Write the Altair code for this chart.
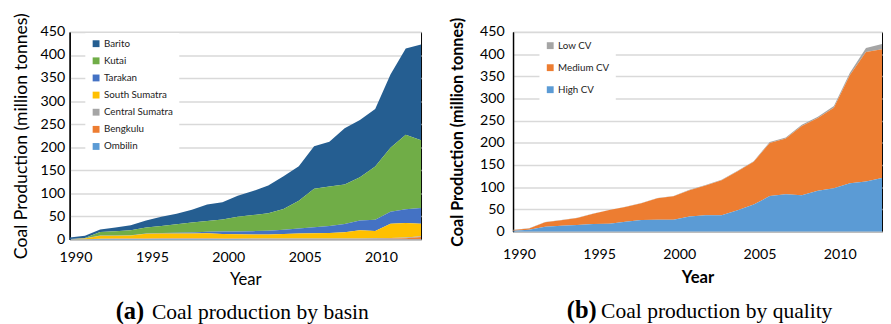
import altair as alt
import pandas as pd

# ---------------- data ----------------
years = list(range(1990, 2014))

# (a) production by basin, million tonnes
barito = [3.2, 5, 5.5, 8, 11, 15, 20, 23, 27.5, 36, 37.5, 45.5, 52, 60, 71, 74.5, 92, 97, 122, 124, 125, 159, 187, 208]
kutai = [0.2, 0.5, 7.5, 9.5, 11, 13, 15, 18.5, 22, 23.5, 26, 31.5, 35, 38, 45, 60, 83.5, 86, 85.5, 94, 115.5, 139, 161.5, 147]
tarakan = [0.3, 0.5, 0.5, 0.5, 0.5, 0.5, 1, 1.5, 2, 3, 5, 6, 7, 8, 9, 11, 13, 15, 18, 21, 24, 26, 30, 34]
south_sumatra = [0.3, 1.5, 6.5, 6.2, 6.7, 10.3, 10.6, 10.5, 10.5, 11, 9.7, 9.2, 8.8, 8.9, 10, 11, 11.5, 12, 13.3, 17.7, 16.1, 31, 31.5, 27]
central_sumatra = [0, 0, 0.3, 0.5, 0.5, 0.8, 1, 1, 1, 1, 1, 1, 1, 1, 1, 1, 1, 1, 1.2, 1.3, 1.4, 1.5, 1.5, 1.5]
bengkulu = [0, 0, 0.2, 0.3, 0.3, 0.4, 0.4, 0.5, 0.5, 0.5, 0.5, 0.5, 0.5, 0.5, 0.5, 0.5, 0.5, 0.5, 0.5, 0.5, 0.5, 1, 2, 5]
ombilin = [0.2, 0.5, 1, 1, 1, 1, 1, 1, 1, 1, 0.8, 0.8, 0.7, 0.6, 0.5, 0.5, 0.5, 0.5, 0.5, 0.5, 0.5, 0.5, 0.5, 0.5]

basin_names = ["Barito", "Kutai", "Tarakan", "South Sumatra", "Central Sumatra", "Bengkulu", "Ombilin"]
basin_colors = ["#255E91", "#70AD47", "#4472C4", "#FFC000", "#A5A5A5", "#ED7D31", "#5B9BD5"]
basin_series = [barito, kutai, tarakan, south_sumatra, central_sumatra, bengkulu, ombilin]

# (b) production by quality, million tonnes
low_cv = [0.5, 0.5, 0.5, 0.5, 0.5, 0.5, 0.5, 0.5, 0.8, 0.8, 0.8, 1, 1, 1, 1, 1.2, 2, 2, 3, 3, 4, 5, 9, 12]
medium_cv = [1.5, 3, 10, 12.5, 15.5, 23.5, 30.5, 33.5, 37.7, 48.2, 52.7, 59.5, 67, 79, 88, 96.3, 120, 126, 156, 164, 181, 244, 292, 290]
high_cv = [2, 4, 11, 13, 15, 17, 18, 22, 26, 27, 27, 34, 37, 37, 48, 61, 80, 84, 82, 92, 98, 109, 113, 121]

quality_names = ["Low CV", "Medium CV", "High CV"]
quality_colors = ["#A5A5A5", "#ED7D31", "#5B9BD5"]
quality_series = [low_cv, medium_cv, high_cv]

x_ticks = [1990, 1995, 2000, 2005, 2010]
y_ticks = [0, 50, 100, 150, 200, 250, 300, 350, 400, 450]
y_title = "Coal Production (million tonnes)"
x_title = "Year"
caption_a = ["(a)", "Coal production by basin"]
caption_b = ["(b)", "Coal production by quality"]


def long_table(names, series, group):
    rows = []
    n = len(names)
    for i, (name, vals) in enumerate(zip(names, series)):
        for yr, v in zip(years, vals):
            rows.append({"Year": yr, group: name, "Value": v, "rank": n - i})
    return pd.DataFrame(rows)


df_basin = long_table(basin_names, basin_series, "Basin")
df_quality = long_table(quality_names, quality_series, "Quality")

FONT = "Lato"
SERIF = "Liberation Serif, DejaVu Serif, serif"


def panel(df, group, names, colors, w, h, bold, leg_x, leg_y, leg_row, lab_pad_x, title_pad_x,
          lab_pad_y, title_pad_y, y_title_size, cap, cap_x, cap_text_x, cap_y):
    weight = "bold" if bold else "normal"
    area = alt.Chart(df).mark_area(interpolate="linear").encode(
        x=alt.X("Year:Q",
                scale=alt.Scale(domain=[1990, 2013], nice=False, zero=False),
                axis=alt.Axis(values=x_ticks, format="d", title=x_title, grid=False,
                              ticks=False, domain=False, labelFont=FONT, labelFontSize=14.5,
                              labelColor="#000", titleFont=FONT, titleFontSize=17,
                              titleFontWeight=weight, titleColor="#000", labelOffset=6,
                              labelFlush=False, labelOverlap=False,
                              labelPadding=lab_pad_x, titlePadding=title_pad_x)),
        y=alt.Y("Value:Q", stack="zero",
                scale=alt.Scale(domain=[0, 450], nice=False),
                axis=alt.Axis(values=y_ticks, title=y_title, grid=True, gridColor="#d9d9d9",
                              gridWidth=1.5, ticks=False, domain=True, domainColor="#000",
                              domainWidth=1.5, labelFont=FONT, labelFontSize=14.5,
                              labelColor="#000", titleFont=FONT, titleFontSize=y_title_size,
                              titleFontWeight=weight, titleColor="#000",
                              labelPadding=lab_pad_y, titlePadding=title_pad_y)),
        color=alt.Color(f"{group}:N",
                        scale=alt.Scale(domain=names, range=colors),
                        legend=alt.Legend(title=None, orient="none", legendX=leg_x, legendY=leg_y,
                                          fillColor="white", padding=6, symbolType="square",
                                          symbolSize=49, symbolStrokeWidth=0,
                                          labelFont=FONT, labelFontSize=10,
                                          labelColor="#222", labelOffset=3,
                                          rowPadding=leg_row)),
        order=alt.Order("rank:Q", sort="ascending"),
    )
    lbl = alt.Chart(pd.DataFrame({"t": [cap[0]]})).mark_text(
        align="left", baseline="alphabetic", font=SERIF, fontSize=25, fontWeight="bold",
        color="#000").encode(text="t:N", x=alt.value(cap_x), y=alt.value(cap_y))
    txt = alt.Chart(pd.DataFrame({"t": [cap[1]]})).mark_text(
        align="left", baseline="alphabetic", font=SERIF, fontSize=22,
        color="#000").encode(text="t:N", x=alt.value(cap_text_x), y=alt.value(cap_y))
    return alt.layer(area, lbl, txt).properties(width=w, height=h)


left = panel(df_basin, "Basin", basin_names, basin_colors, 359, 212, False,
             16, 1, 7.5, 12, 8, 5, 10, 18, caption_a, 47, 84, 293)
right = panel(df_quality, "Quality", quality_names, quality_colors, 377, 204, True,
              27, 3, 12.5, 16, 10, 9, 14, 16.5, caption_b, 55, 90, 292)

chart = alt.hconcat(left, right, spacing=28).resolve_scale(
    color="independent"
).configure(
    padding={"left": 4, "top": 0, "right": 0, "bottom": 0},
    background="white",
).configure_view(stroke="#000", strokeWidth=1)

chart.save("out.html", embed_options={"renderer": "svg", "actions": False})
